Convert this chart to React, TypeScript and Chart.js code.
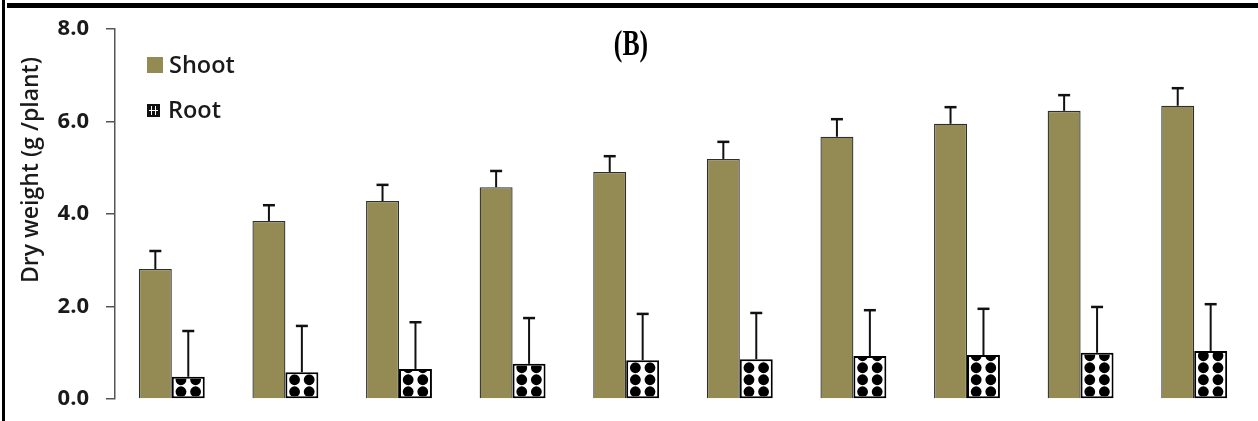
import React, { useEffect, useRef } from "react";
import { Chart, registerables } from "chart.js";

Chart.register(...registerables);

const categories = ["T1", "T2", "T3", "T4", "T5", "T6", "T7", "T8", "T9", "T10"];
const shootValues = [2.81, 3.85, 4.28, 4.58, 4.91, 5.19, 5.67, 5.95, 6.23, 6.34];
const shootErrors = [0.39, 0.34, 0.35, 0.35, 0.34, 0.37, 0.38, 0.36, 0.34, 0.38];
const rootValues = [0.48, 0.58, 0.65, 0.76, 0.84, 0.86, 0.93, 0.95, 1.0, 1.04];
const rootErrors = [0.99, 1.0, 1.01, 0.99, 1.0, 1.0, 0.99, 1.0, 0.99, 1.01];
const yTicks = [0, 2, 4, 6, 8];
const seriesNames = ["Shoot", "Root"];
const titleText = "(B)";
const yTitle = "Dry weight (g /plant)";

const OLIVE = "#948A54";

const errorAndPatternPlugin = {
  id: "errAndPattern",
  afterDatasetsDraw(chart: any) {
    const ctx = chart.ctx;
    const yScale = chart.scales.y;
    const rootMeta = chart.getDatasetMeta(1);
    rootMeta.data.forEach((bar: any) => {
      const { x, y, base, width } = bar.getProps(["x", "y", "base", "width"], true);
      const left = x - width / 2 + 2;
      const right = x + width / 2 - 2;
      const top = y + 2;
      const bottom = base - 2;
      ctx.save();
      ctx.beginPath();
      ctx.rect(left, top, right - left, bottom - top);
      ctx.clip();
      ctx.fillStyle = "#000";
      for (let ry = base - 6.5; ry + 6 > top; ry -= 12) {
        for (const dx of [-7.3, 7.3]) {
          ctx.beginPath();
          ctx.arc(x + dx, ry, 5.4, 0, Math.PI * 2);
          ctx.fill();
        }
      }
      ctx.restore();
    });
    const errs = [shootErrors, rootErrors];
    chart.data.datasets.forEach((ds: any, di: number) => {
      const meta = chart.getDatasetMeta(di);
      meta.data.forEach((bar: any, i: number) => {
        const { x, y } = bar.getProps(["x", "y"], true);
        const yTop = yScale.getPixelForValue(ds.data[i] + errs[di][i]);
        ctx.save();
        ctx.strokeStyle = "#111";
        ctx.lineWidth = 2;
        ctx.beginPath();
        ctx.moveTo(x, y);
        ctx.lineTo(x, yTop);
        ctx.stroke();
        ctx.lineWidth = 2.5;
        ctx.beginPath();
        ctx.moveTo(x - 6, yTop);
        ctx.lineTo(x + 6, yTop);
        ctx.stroke();
        ctx.restore();
      });
    });
  },
  afterDraw(chart: any) {
    const ctx = chart.ctx;
    const area = chart.chartArea;
    ctx.save();
    const lx = area.left + 32;
    ctx.fillStyle = OLIVE;
    ctx.fillRect(lx, 57, 16, 16);
    ctx.fillStyle = "#111";
    ctx.fillRect(lx, 104, 13, 13);
    ctx.strokeStyle = "#fff";
    ctx.lineWidth = 1;
    ctx.beginPath();
    ctx.moveTo(lx + 4.5, 106);
    ctx.lineTo(lx + 4.5, 115);
    ctx.moveTo(lx + 8.5, 106);
    ctx.lineTo(lx + 8.5, 115);
    ctx.moveTo(lx + 2, 110.5);
    ctx.lineTo(lx + 11, 110.5);
    ctx.stroke();
    ctx.fillStyle = "#1a1a1a";
    ctx.font = '600 23.5px "Open Sans"';
    ctx.textAlign = "left";
    ctx.textBaseline = "alphabetic";
    ctx.fillText(seriesNames[0], lx + 22, 73);
    ctx.fillText(seriesNames[1], lx + 21, 118);
    // title
    ctx.save();
    ctx.translate(631, 46);
    ctx.scale(0.78, 1.1);
    ctx.font = 'bold 33px "Liberation Serif"';
    ctx.textAlign = "center";
    ctx.textBaseline = "middle";
    ctx.fillStyle = "#000";
    ctx.fillText(titleText, 0, 0);
    ctx.restore();
    // y title
    ctx.save();
    ctx.translate(31, 170);
    ctx.rotate(-Math.PI / 2);
    ctx.font = '600 23px "Open Sans"';
    ctx.textAlign = "center";
    ctx.textBaseline = "middle";
    ctx.fillStyle = "#1a1a1a";
    ctx.fillText(yTitle, 0, 0);
    ctx.restore();
    ctx.restore();
  },
};

export default function App() {
  const canvasRef = useRef<HTMLCanvasElement | null>(null);

  useEffect(() => {
    const canvas = canvasRef.current;
    if (!canvas) return;
    const chart = new Chart(canvas, {
      type: "bar",
      data: {
        labels: categories,
        datasets: [
          {
            label: seriesNames[0],
            data: shootValues,
            backgroundColor: OLIVE,
            borderColor: "#2e2e2e",
            borderWidth: 1.3,
            borderSkipped: "start",
            categoryPercentage: 0.58,
            barPercentage: 1.0,
          },
          {
            label: seriesNames[1],
            data: rootValues,
            backgroundColor: "#ffffff",
            borderColor: "#000000",
            borderWidth: 2,
            borderSkipped: false,
            categoryPercentage: 0.58,
            barPercentage: 1.0,
          },
        ],
      },
      options: {
        responsive: false,
        animation: false,
        layout: { padding: { left: 0, right: 7, top: 29, bottom: 22 } },
        plugins: {
          legend: { display: false },
          tooltip: { enabled: false },
          title: { display: false },
        },
        scales: {
          x: {
            display: false,
            grid: { offset: true },
          },
          y: {
            min: 0,
            max: 8,
            afterFit(scale: any) {
              scale.width = 115;
              scale.paddingTop = 0;
              scale.paddingBottom = 0;
            },
            afterBuildTicks(scale: any) {
              scale.ticks = yTicks.map((v) => ({ value: v }));
            },
            ticks: {
              callback: (v: any) => Number(v).toFixed(1),
              font: { family: "Open Sans", size: 22, weight: "bold" },
              color: "#1a1a1a",
              padding: 17,
            },
            grid: {
              drawOnChartArea: false,
              drawTicks: true,
              tickLength: 9,
              color: "#555",
              lineWidth: 1.5,
            },
            border: { display: true, color: "#555", width: 1.5 },
          },
        },
      },
      plugins: [errorAndPatternPlugin],
    });
    return () => chart.destroy();
  }, []);

  return (
    <div style={{ position: "fixed", left: 0, top: 0, width: 1258, height: 421, background: "#fff" }}>
      <canvas ref={canvasRef} width={1258} height={421} style={{ position: "absolute", left: 0, top: 0 }} />
      <div style={{ position: "absolute", left: 7, top: 3, width: 1251, height: 5, background: "#000" }} />
      <div style={{ position: "absolute", left: 2, top: 0, width: 3, height: 421, background: "#000" }} />
    </div>
  );
}
